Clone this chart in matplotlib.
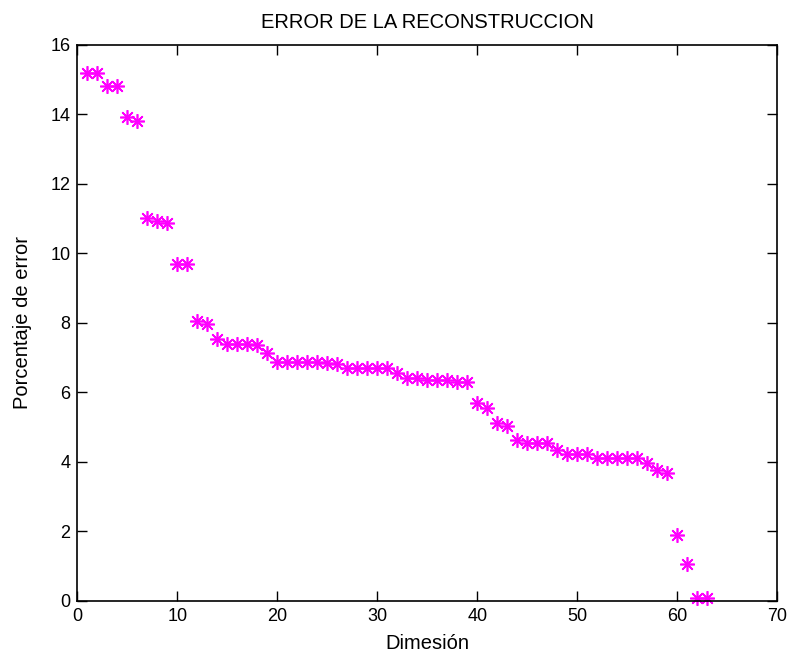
import matplotlib
matplotlib.use('Agg')
import matplotlib.pyplot as plt
import numpy as np

plt.rcParams['font.family'] = ['Liberation Sans', 'DejaVu Sans']

# dimension index and reconstruction error (%)
dims = np.arange(1, 64)
error = [15.18, 15.18, 14.80, 14.80, 13.92, 13.81, 11.02, 10.93, 10.88, 9.68,
         9.68, 8.05, 7.96, 7.53, 7.40, 7.40, 7.40, 7.36, 7.14, 6.88,
         6.88, 6.88, 6.88, 6.88, 6.85, 6.81, 6.71, 6.71, 6.71, 6.71,
         6.71, 6.55, 6.41, 6.41, 6.36, 6.36, 6.36, 6.29, 6.29, 5.69,
         5.54, 5.12, 5.03, 4.62, 4.55, 4.55, 4.55, 4.34, 4.22, 4.22,
         4.22, 4.10, 4.10, 4.10, 4.10, 4.10, 3.97, 3.76, 3.67, 1.89,
         1.06, 0.07, 0.07]

title = 'ERROR DE LA RECONSTRUCCION'
xlabel = 'Dimesión'
ylabel = 'Porcentaje de error'

fig = plt.figure(figsize=(7.91, 6.54), dpi=100, facecolor='white')
ax = fig.add_axes([0.0977, 0.0815, 0.885, 0.8502])

ax.plot(dims, error, linestyle='none', marker=(8, 2, 0), markersize=10.5,
        markeredgewidth=1.2, color='#ff00ff', clip_on=False)

ax.set_xlim(0, 70)
ax.set_ylim(0, 16)
ax.set_xticks(np.arange(0, 71, 10))
ax.set_yticks(np.arange(0, 17, 2))
ax.tick_params(direction='in', length=7, width=1, labelsize=13,
               top=True, right=True, pad=5)
for s in ax.spines.values():
    s.set_linewidth(1.2)

ax.set_title(title, fontsize=14.5, pad=12)
ax.set_xlabel(xlabel, fontsize=14.5, labelpad=7)
ax.set_ylabel(ylabel, fontsize=14.5, labelpad=13)

fig.savefig('out.png', dpi=100, facecolor='white')
